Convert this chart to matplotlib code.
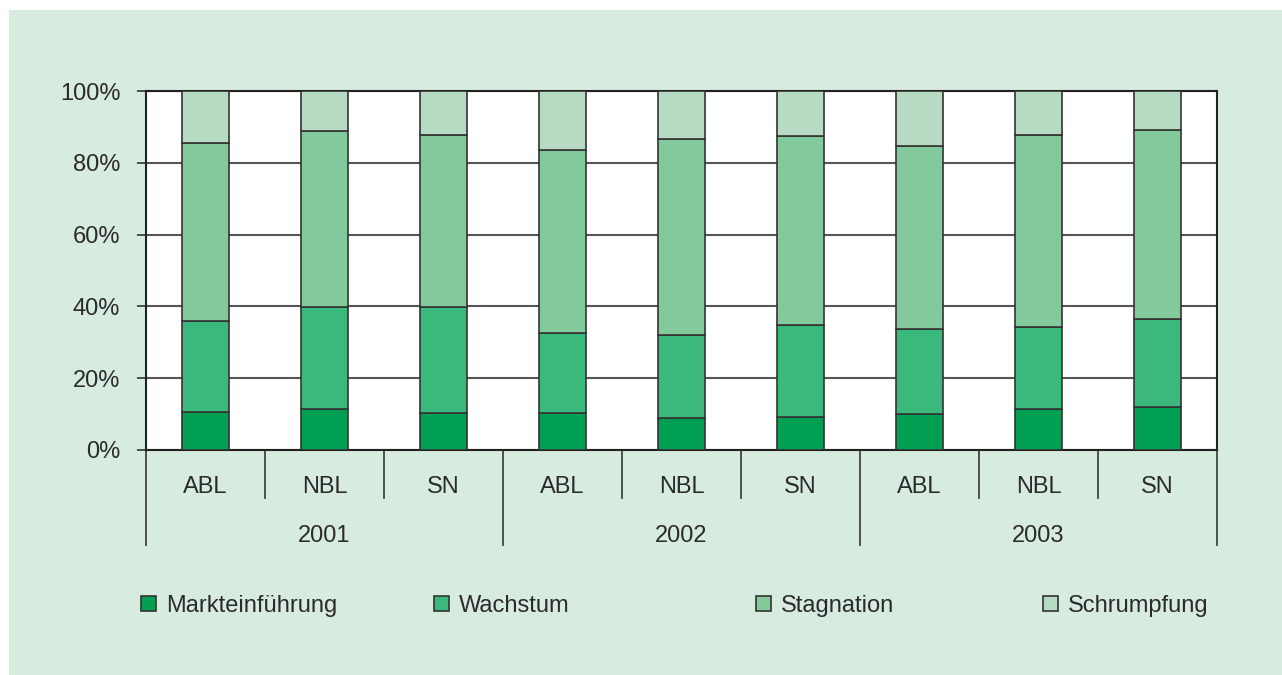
import matplotlib.pyplot as plt
import numpy as np
from matplotlib.patches import Patch, Rectangle

plt.rcParams['font.family'] = ['Liberation Sans', 'DejaVu Sans']

regions = ['ABL', 'NBL', 'SN'] * 3
years = ['2001', '2002', '2003']
series = ['Markteinführung', 'Wachstum', 'Stagnation', 'Schrumpfung']

markt = [10.5, 11.4, 10.4, 10.4, 8.8, 9.3, 10.0, 11.4, 12.1]
wachstum = [25.5, 28.4, 29.5, 22.3, 23.2, 25.5, 23.8, 22.9, 24.5]
stagnation = [49.4, 49.1, 47.8, 51.0, 54.6, 52.6, 51.0, 53.5, 52.4]
schrumpfung = [14.6, 11.1, 12.3, 16.3, 13.4, 12.6, 15.2, 12.2, 11.0]

colors = ['#009F52', '#3BB97D', '#82C99B', '#B6DAC2']
bg = '#D7EBDF'
txt = '#2b2b2b'
fs = 17

fig = plt.figure(figsize=(12.82, 6.75), dpi=100)
fig.patch.set_facecolor('white')
fig.patches.append(Rectangle((9 / 1282, 0), 1, 1 - 10 / 675, transform=fig.transFigure,
                             facecolor=bg, edgecolor='none', zorder=-10))

ax = fig.add_axes([146 / 1282, 1 - 450 / 675, (1217 - 146) / 1282, (450 - 91) / 675])
ax.set_facecolor('white')

x = np.arange(len(regions))
bottom = np.zeros(len(regions))
for vals, c in zip([markt, wachstum, stagnation, schrumpfung], colors):
    ax.bar(x, vals, width=0.4, bottom=bottom, color=c, edgecolor='#333333', linewidth=1.2, zorder=3)
    bottom += np.array(vals)

ax.set_xlim(-0.5, len(regions) - 0.5)
ax.set_ylim(0, 100)
ax.set_yticks([0, 20, 40, 60, 80, 100])
ax.set_yticklabels(['0%', '20%', '40%', '60%', '80%', '100%'], fontsize=fs, color=txt)
ax.tick_params(axis='y', length=6.5, width=1.2, pad=12, color='#333333')
ax.set_xticks([])
ax.yaxis.grid(True, color='#555555', linewidth=1.5, zorder=1)
for s in ax.spines.values():
    s.set_color('#222222')
    s.set_linewidth(1.5)

# multi-level category axis
trans = ax.get_xaxis_transform()
ppx = 1.0 / (450 - 91)  # one pixel in axes fraction (vertical)
for i in range(len(regions) + 1):
    b = i - 0.5
    if i % 3 == 0:
        ax.plot([b, b], [0, -95 * ppx], transform=trans, color='#444444', lw=1.3, clip_on=False)
    else:
        ax.plot([b, b], [0, -48 * ppx], transform=trans, color='#444444', lw=1.3, clip_on=False)
for i, r in enumerate(regions):
    ax.text(i, -37 * ppx, r, transform=trans, ha='center', va='center', fontsize=fs, color=txt)
for j, y in enumerate(years):
    ax.text(3 * j + 1, -86 * ppx, y, transform=trans, ha='center', va='center', fontsize=fs, color=txt)

# legend items placed individually
leg_x = [141, 434, 756, 1043]
for name, c, lx in zip(series, colors, leg_x):
    h = Patch(facecolor=c, edgecolor='#333333', linewidth=1.2)
    lg = fig.legend([h], [name], loc='center left', bbox_to_anchor=(lx / 1282, 1 - 606 / 675),
                    frameon=False, fontsize=fs, handlelength=0.62, handleheight=0.62,
                    handletextpad=0.45, borderpad=0, borderaxespad=0, labelcolor=txt)

fig.savefig('out.png', dpi=100, facecolor=fig.get_facecolor())
